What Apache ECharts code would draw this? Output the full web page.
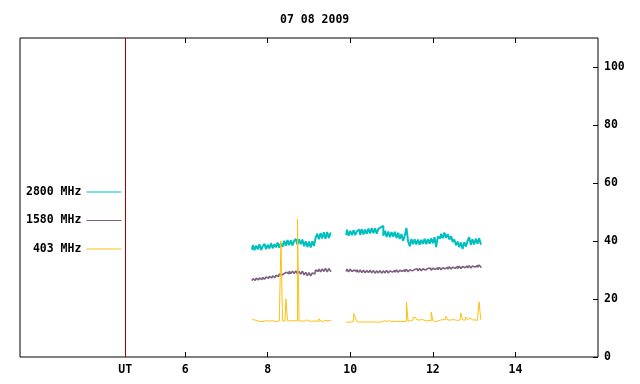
<!DOCTYPE html>
<html>
<head>
<meta charset="utf-8">
<title>07 08 2009</title>
<script src="https://cdn.jsdelivr.net/npm/echarts@6/dist/echarts.min.js"></script>
<style>
  html, body { margin: 0; padding: 0; background: #fff; }
  #chart { width: 640px; height: 384px; }
</style>
</head>
<body>
<div id="chart"></div>
<script>
// sampling of the two observing runs (hours UT)
const seg1Start = 7.62
const seg2Start = 9.90
const sampleStep = 0.04
const utHour = 4.55

const xTicks = [6, 8, 10, 12, 14]
const yTicks = [0, 20, 40, 60, 80, 100]
const seriesNames = ['2800 MHz', '1580 MHz', '403 MHz']
const seriesColors = ['#00bfc0', '#7d5f80', '#ffc010']

// 2800 MHz
const f2800a = [37.0, 38.6, 36.8, 38.4, 37.1, 38.9, 36.9, 38.2, 39.0, 37.2, 38.7, 37.4, 39.2, 37.5, 38.9, 37.8, 39.5, 37.7, 39.3, 38.0,
  40.1, 38.4, 40.3, 38.6, 40.2, 38.5, 40.0, 40.7, 38.8, 40.6, 38.9, 40.5, 38.2, 39.9, 37.9, 39.8, 37.8, 39.9, 38.3, 41.1,
  42.5, 40.6, 42.7, 40.9, 43.0, 40.8, 43.1, 41.0, 42.7]
const f2800b = [42.1, 43.9, 41.8, 43.5, 42.0, 43.8, 42.0, 43.4, 43.9, 42.1, 44.0, 42.3, 43.9, 42.5, 44.3, 42.6, 44.5, 42.7, 44.4, 42.5,
  44.2, 44.7, 45.2, 41.8, 43.5, 41.4, 43.3, 41.3, 43.1, 41.5, 43.2, 41.0, 42.8, 40.7, 42.4, 40.1, 41.9, 44.5, 39.9, 38.2,
  40.7, 38.9, 40.6, 38.8, 40.5, 38.7, 40.4, 39.0, 40.8, 38.9, 40.7, 39.1, 40.9, 39.2, 41.3, 37.9, 41.5, 40.9, 42.5, 41.0,
  42.9, 41.1, 42.4, 40.5, 41.7, 39.7, 40.5, 38.5, 39.8, 37.9, 39.5, 37.2, 39.6, 38.1, 40.0, 41.3, 38.7, 40.6, 38.8, 40.8,
  39.1, 40.9, 39.0]

// 1580 MHz
const f1580a = [26.3, 27.0, 26.4, 27.2, 26.6, 27.3, 26.7, 27.5, 26.8, 27.6, 27.1, 27.8, 27.3, 28.0, 27.4, 28.2, 27.7, 28.6, 28.2, 28.8,
  28.3, 29.2, 28.7, 29.6, 28.8, 29.6, 28.8, 29.7, 28.7, 29.5, 28.6, 29.6, 28.3, 29.2, 28.1, 29.1, 28.0, 29.0, 28.6, 30.0,
  29.5, 30.3, 29.4, 30.4, 29.5, 30.6, 29.3, 30.5, 29.6]
const f1580b = [29.5, 30.3, 29.4, 30.3, 29.5, 30.0, 29.4, 30.1, 29.2, 30.0, 29.1, 29.9, 29.0, 29.8, 29.1, 29.9, 29.0, 29.8, 28.9, 29.7,
  29.0, 29.8, 28.9, 29.7, 29.0, 29.8, 29.0, 29.7, 29.3, 29.9, 29.2, 30.0, 29.2, 29.9, 29.5, 30.1, 29.4, 30.2, 29.4, 30.1,
  29.7, 30.2, 29.6, 30.4, 29.7, 30.5, 29.7, 30.4, 30.0, 30.5, 29.9, 30.7, 29.9, 30.6, 30.2, 30.8, 30.1, 30.9, 30.1, 30.8,
  30.4, 31.0, 30.3, 31.1, 30.3, 31.0, 30.6, 31.2, 30.5, 31.3, 30.5, 31.2, 30.8, 31.4, 30.7, 31.5, 30.7, 31.4, 31.0, 31.6,
  30.9, 31.7, 31.0]

// 403 MHz
const f403a = [12.9, 12.8, 12.4, 12.5, 12.3, 12.4, 12.2, 12.4, 12.3, 12.5, 12.4, 12.3, 12.5, 12.4, 12.3, 12.2, 12.4, 12.6, 40.0, 12.5,
  12.4, 20.0, 12.5, 12.4, 12.6, 12.4, 12.5, 12.4, 47.6, 12.4, 12.5, 12.3, 12.4, 12.8, 12.4, 12.5, 12.3, 12.4, 12.6, 12.4,
  12.3, 13.2, 12.4, 12.3, 12.6, 12.7, 12.5, 12.6, 12.5]
const f403b = [12.0, 12.0, 12.0, 12.1, 12.3, 15.0, 13.6, 12.2, 12.0, 12.1, 12.0, 12.1, 12.0, 12.0, 12.1, 12.0, 12.0, 12.1, 12.0, 12.0,
  12.0, 12.1, 12.4, 12.5, 12.3, 12.2, 12.5, 12.2, 12.1, 12.4, 12.2, 12.5, 12.3, 12.2, 12.4, 12.3, 12.3, 19.0, 12.4, 12.5,
  12.8, 13.5, 13.7, 13.0, 12.7, 12.9, 12.6, 12.8, 12.4, 12.3, 12.6, 12.5, 15.5, 12.6, 12.2, 12.4, 12.6, 12.7, 12.9, 12.7,
  12.8, 14.0, 12.8, 12.7, 12.9, 12.7, 12.8, 12.6, 12.7, 12.8, 15.2, 12.8, 12.7, 13.8, 12.9, 13.4, 12.8, 12.7, 12.8, 12.6,
  12.8, 19.0, 12.9]

// join both runs with a gap between them
const toPoints = (a, b) => [
  ...a.map((v, i) => [+(seg1Start + i * sampleStep).toFixed(2), v]),
  [null, null],
  ...b.map((v, i) => [+(seg2Start + i * sampleStep).toFixed(2), v])
]

const font = 'DejaVu Sans Mono'
const chart = echarts.init(document.getElementById('chart'))

const lineSeries = (idx, a, b, width) => ({
  name: seriesNames[idx],
  type: 'line',
  symbol: 'none',
  step: 'middle',
  connectNulls: false,
  lineStyle: { width: width },
  data: toPoints(a, b)
})

const option = {
  animation: false,
  backgroundColor: '#fff',
  color: seriesColors,
  title: {
    text: '07 08 2009',
    left: 275,
    top: 9,
    textStyle: { fontFamily: font, fontSize: 11.5, fontWeight: 'bold', color: '#000' }
  },
  legend: {
    orient: 'vertical',
    left: 21,
    top: 180,
    align: 'right',
    icon: 'rect',
    itemWidth: 35,
    itemHeight: 1,
    itemGap: 14.5,
    data: seriesNames,
    formatter: (n) => n === '403 MHz' ? ' ' + n : n,
    textStyle: { fontFamily: font, fontSize: 11.5, fontWeight: 'bold', color: '#000', lineHeight: 14 }
  },
  grid: {
    left: 20,
    right: 42,
    top: 38,
    bottom: 27,
    show: true,
    borderColor: '#000',
    borderWidth: 1
  },
  xAxis: [
    {
      type: 'value',
      min: 2,
      max: 16,
      position: 'bottom',
      axisLine: { show: false },
      splitLine: { show: false },
      axisTick: { inside: true, length: 5, customValues: xTicks, lineStyle: { color: '#000' } },
      axisLabel: {
        customValues: [utHour, ...xTicks],
        margin: 7,
        formatter: (v) => v < 5 ? 'UT' : String(v),
        fontFamily: font, fontSize: 11.5, fontWeight: 'bold', color: '#000'
      }
    },
    {
      type: 'value',
      min: 2,
      max: 16,
      position: 'top',
      axisLine: { show: false },
      splitLine: { show: false },
      axisTick: { inside: true, length: 5, customValues: xTicks, lineStyle: { color: '#000' } },
      axisLabel: { show: false }
    }
  ],
  yAxis: {
    type: 'value',
    position: 'right',
    min: 0,
    max: 110,
    axisLine: { show: false },
    splitLine: { show: false },
    axisTick: { inside: true, length: 5, customValues: yTicks, lineStyle: { color: '#000' } },
    axisLabel: {
      customValues: yTicks,
      margin: 6,
      fontFamily: font, fontSize: 11.5, fontWeight: 'bold', color: '#000'
    }
  },
  series: [
    Object.assign(lineSeries(0, f2800a, f2800b, 2), {
      markLine: {
        silent: true,
        symbol: 'none',
        label: { show: false },
        lineStyle: { color: '#a00000', type: 'solid', width: 1 },
        data: [{ xAxis: utHour }]
      }
    }),
    lineSeries(1, f1580a, f1580b, 1.6),
    lineSeries(2, f403a, f403b, 1)
  ]
}

chart.setOption(option)
</script>
</body>
</html>
